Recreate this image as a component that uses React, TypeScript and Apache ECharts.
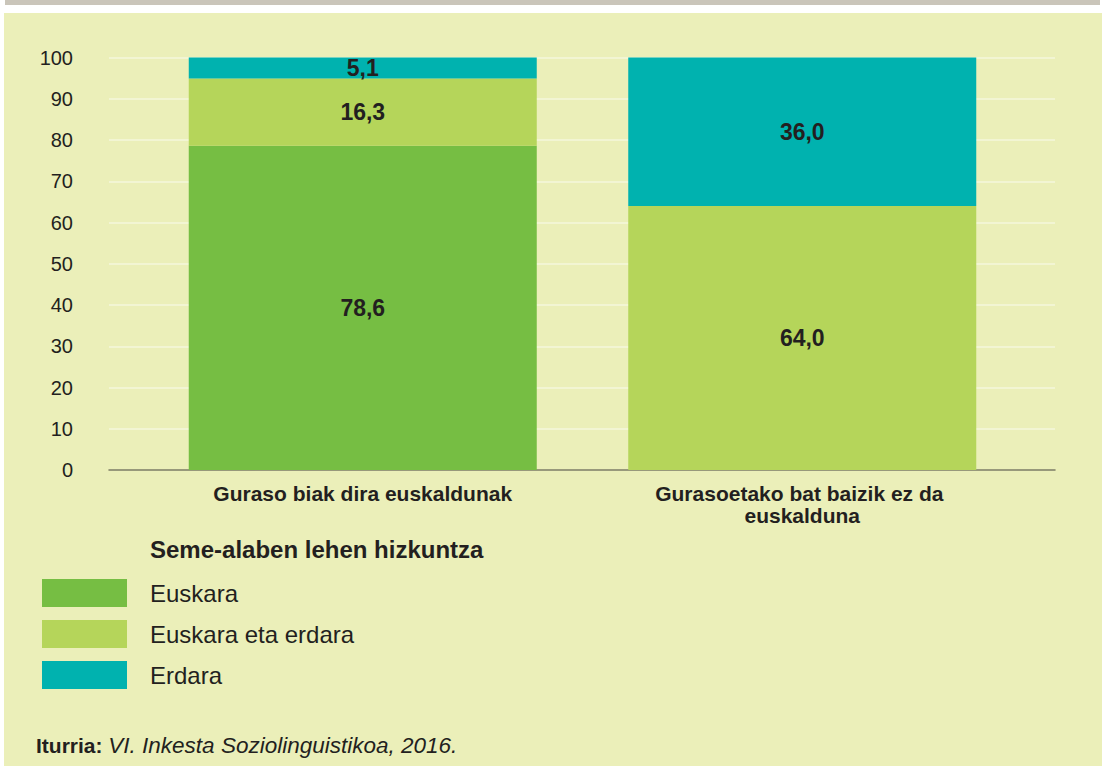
import React, { useEffect, useRef } from "react";
import * as echarts from "echarts";

const categories = [
  "Guraso biak dira euskaldunak",
  "Gurasoetako bat baizik ez da euskalduna",
];
const seriesNames = ["Euskara", "Euskara eta erdara", "Erdara"];
const euskara = [78.6, 0];
const euskaraEtaErdara = [16.3, 64.0];
const erdara = [5.1, 36.0];
const legendTitle = "Seme-alaben lehen hizkuntza";
const sourceLabel = "Iturria:";
const sourceText = "VI. Inkesta Soziolinguistikoa, 2016.";

const COLORS = ["#76BE43", "#B5D55A", "#00B2AF"];
const TEXT = "#231F20";
const FONT = "'Liberation Sans', Arial, sans-serif";

export default function App() {
  const ref = useRef<HTMLDivElement>(null);
  useEffect(() => {
    if (!ref.current) return;
    const chart = echarts.init(ref.current, undefined, { renderer: "svg" });
    const fmt = (p: any) => (p.value ? Number(p.value).toFixed(1).replace(".", ",") : "");
    const mk = (name: string, data: number[], i: number) => ({
      name,
      type: "bar",
      stack: "total",
      xAxisIndex: 1,
      yAxisIndex: 1,
      barWidth: 348,
      data,
      itemStyle: { color: COLORS[i] },
      label: {
        show: true,
        position: "inside",
        formatter: fmt,
        color: TEXT,
        fontFamily: FONT,
        fontWeight: "bold",
        fontSize: 23,
      },
    });
    chart.setOption({
      animation: false,
      backgroundColor: "#ffffff",
      textStyle: { fontFamily: FONT },
      graphic: [
        { type: "rect", silent: true, z: -10, shape: { x: 5, y: 0, width: 1095, height: 5 }, style: { fill: "#CAC5BA" } },
        { type: "rect", silent: true, z: -10, shape: { x: 4, y: 13, width: 1098, height: 753 }, style: { fill: "#EBEFB9" } },
        {
          type: "text",
          x: 150,
          y: 549,
          style: {
            text: legendTitle,
            fill: TEXT,
            font: `bold 24px ${FONT}`,
            verticalAlign: "middle",
          },
        },
        {
          type: "text",
          x: 36,
          y: 745,
          style: {
            text: `{b|${sourceLabel} }{i|${sourceText}}`,
            verticalAlign: "middle",
            rich: {
              b: { fontWeight: "bold", fontSize: 21, fontFamily: FONT, fill: TEXT, color: TEXT },
              i: { fontStyle: "italic", fontSize: 22.5, fontFamily: FONT, fill: TEXT, color: TEXT },
            },
          },
        },
      ],
      legend: {
        orient: "vertical",
        left: 42,
        top: 579,
        padding: 0,
        itemWidth: 85,
        itemHeight: 28,
        itemGap: 13,
        icon: "rect",
        data: seriesNames,
        textStyle: { fontSize: 24, color: TEXT, fontFamily: FONT, padding: [0, 0, 0, 18] },
      },
      grid: [
        { left: 109, right: 47, top: 57.5, bottom: 296 },
        { left: 143, right: 80, top: 57.5, bottom: 296 },
      ],
      xAxis: [
        {
          type: "category",
          gridIndex: 0,
          data: categories,
          axisLine: { show: true, lineStyle: { color: "#7A7A5E", width: 1.5 } },
          axisTick: { show: false },
          axisLabel: { show: false },
          splitLine: { show: false },
        },
        {
          type: "category",
          gridIndex: 1,
          data: categories,
          axisLine: { show: false },
          axisTick: { show: false },
          axisLabel: {
            color: TEXT,
            fontFamily: FONT,
            fontWeight: "bold",
            fontSize: 21,
            lineHeight: 22,
            margin: 12,
            width: 310,
            overflow: "break",
            interval: 0,
          },
        },
      ],
      yAxis: [
        {
          type: "value",
          gridIndex: 0,
          min: 0,
          max: 100,
          interval: 10,
          axisLine: { show: false },
          axisTick: { show: false },
          axisLabel: { color: TEXT, fontFamily: FONT, fontSize: 20, margin: 36, padding: [0, 0, 4, 0] },
          splitLine: { show: true, lineStyle: { color: "#F5F7DD", width: 1.5 } },
        },
        {
          type: "value",
          gridIndex: 1,
          min: 0,
          max: 100,
          interval: 10,
          show: false,
          splitLine: { show: false },
        },
      ],
      series: [
        mk(seriesNames[0], euskara, 0),
        mk(seriesNames[1], euskaraEtaErdara, 1),
        mk(seriesNames[2], erdara, 2),
      ],
    });
    return () => chart.dispose();
  }, []);
  return (
    <div
      ref={ref}
      style={{ position: "fixed", left: 0, top: 0, width: 1102, height: 766 }}
    />
  );
}
